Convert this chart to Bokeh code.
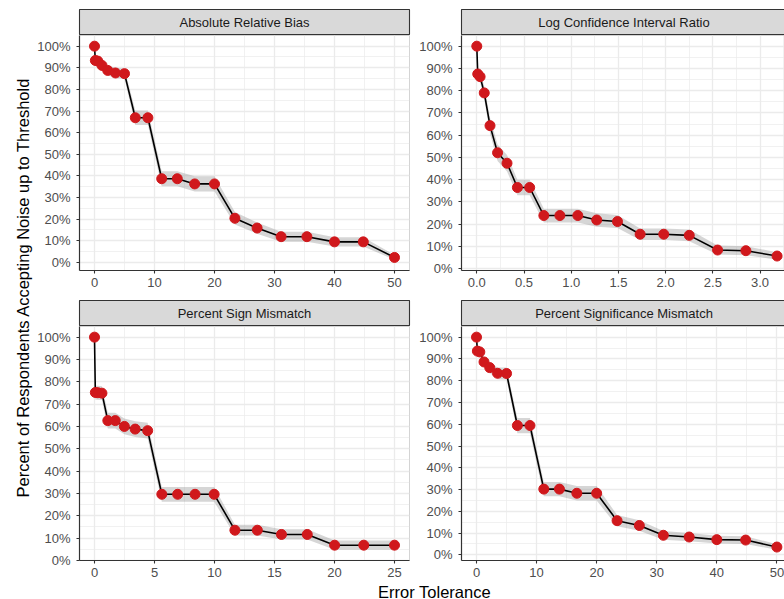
import math
from bokeh.plotting import figure
from bokeh.models import ColumnDataSource, Range1d, FixedTicker, PrintfTickFormatter, Label
from bokeh.layouts import row, column
from bokeh.embed import file_html
from bokeh.resources import INLINE

FONT = "Liberation Sans"

# ---------------- data ----------------
panel_titles = ["Absolute Relative Bias", "Log Confidence Interval Ratio",
                "Percent Sign Mismatch", "Percent Significance Mismatch"]

arb_x = [0, 0.14, 0.55, 1.25, 2.2, 3.5, 5.0, 6.8, 8.9, 11.2, 13.8, 16.7, 20.0,
         23.4, 27.1, 31.1, 35.4, 40.0, 44.8, 50.0]
arb_y = [100, 93.4, 93.1, 91.1, 88.8, 87.6, 87.3, 66.9, 66.9, 38.7, 38.7, 36.3,
         36.3, 20.4, 15.9, 11.9, 11.9, 9.5, 9.5, 2.3]
arb_ci = [0, 1.8, 1.8, 2.1, 2.3, 2.4, 2.4, 3.4, 3.4, 3.5, 3.5, 3.5, 3.5, 2.9,
          2.6, 2.3, 2.3, 2.1, 2.1, 1.1]

lci_x = [0, 0.01, 0.035, 0.079, 0.14, 0.22, 0.32, 0.43, 0.56, 0.71, 0.88, 1.07,
         1.27, 1.49, 1.73, 1.98, 2.25, 2.55, 2.85, 3.18]
lci_y = [100, 87.5, 86.3, 79.0, 64.3, 52.1, 47.4, 36.5, 36.5, 23.9, 23.9, 23.9,
         21.9, 21.2, 15.5, 15.5, 15.0, 8.4, 8.1, 5.7]
lci_ci = [0, 2.4, 2.5, 3.0, 3.5, 3.7, 3.7, 3.5, 3.5, 3.1, 3.1, 3.1, 3.0, 2.9,
          2.6, 2.6, 2.6, 2.0, 2.0, 1.7]

psm_x = [0, 0.07, 0.28, 0.62, 1.11, 1.73, 2.49, 3.39, 4.43, 5.61, 6.93, 8.38,
         9.97, 11.7, 13.57, 15.58, 17.73, 20.01, 22.44, 25.0]
psm_y = [100, 75.2, 75.1, 74.9, 62.6, 62.6, 60.0, 58.8, 58.1, 29.6, 29.6, 29.6,
         29.6, 13.5, 13.5, 11.6, 11.6, 6.8, 6.8, 6.8]
psm_ci = [0, 3.1, 3.1, 3.1, 3.5, 3.5, 3.5, 3.5, 3.5, 3.3, 3.3, 3.3, 3.3, 2.4,
          2.4, 2.3, 2.3, 2.1, 2.1, 2.1]

psig_x = [0, 0.14, 0.55, 1.25, 2.2, 3.5, 5.0, 6.8, 8.9, 11.2, 13.8, 16.7, 20.0,
          23.4, 27.1, 31.1, 35.4, 40.0, 44.8, 50.0]
psig_y = [100, 93.6, 93.2, 88.6, 86.0, 83.4, 83.3, 59.4, 59.4, 30.2, 30.2, 28.3,
          28.3, 15.7, 13.5, 9.0, 8.2, 7.0, 6.8, 3.6]
psig_ci = [0, 1.8, 1.8, 2.3, 2.5, 2.7, 2.7, 3.5, 3.5, 3.3, 3.3, 3.3, 3.3, 2.6,
           2.4, 2.0, 1.9, 1.8, 1.8, 1.3]

ticks_50 = [0, 10, 20, 30, 40, 50]
minor_50 = [5, 15, 25, 35, 45]
ticks_3 = [0, 0.5, 1.0, 1.5, 2.0, 2.5, 3.0]
minor_3 = [0.25, 0.75, 1.25, 1.75, 2.25, 2.75, 3.25]
ticks_25 = [0, 5, 10, 15, 20, 25]
minor_25 = [2.5, 7.5, 12.5, 17.5, 22.5]
y_ticks = [0, 10, 20, 30, 40, 50, 60, 70, 80, 90, 100]
y_minor = [5, 15, 25, 35, 45, 55, 65, 75, 85, 95]

x_title = "Error Tolerance"
y_title = "Percent of Respondents Accepting Noise up to Threshold"

# ---------------- styling / layout ----------------
PT_COLOR = "#d0181c"
GRID = "#ebebeb"
DARK = "#333333"
TICK_TXT = "#4d4d4d"

YT_W = 34
LEFT_B = 44
GAP_R = 7
FW_L = 330
FW_R = 325
TOP_B = 9
STRIP_H = 26
FH_TOP = 235
FH_BOT = 234
MID_B = 30
BOT_B = 22
XT_H = 17


def make_strip(text, col, top):
    s = figure(frame_width=FW_L if col == 0 else FW_R, frame_height=STRIP_H,
               x_range=Range1d(0, 1), y_range=Range1d(0, 1),
               x_axis_type=None, y_axis_type=None, toolbar_location=None,
               output_backend="svg", title=None,
               min_border_left=LEFT_B, min_border_right=GAP_R if col == 0 else 0,
               min_border_top=TOP_B if top else 0, min_border_bottom=0)
    s.background_fill_color = "#d9d9d9"
    s.border_fill_color = "white"
    s.outline_line_color = DARK
    s.outline_line_width = 1.1
    s.add_layout(Label(x=0.5, y=0.5, text=text, text_align="center",
                       text_baseline="middle", text_font=FONT,
                       text_font_size="13px", text_color="#1a1a1a"))
    return s


def make_panel(xs, ys, ci, xr, xt, xm, xfmt, col, fh, bottom_border):
    lower = [y - c for y, c in zip(ys, ci)]
    upper = [y + c for y, c in zip(ys, ci)]
    lo, hi = min(lower), max(upper)
    pad = 0.05 * (hi - lo)
    p = figure(frame_width=FW_L if col == 0 else FW_R, frame_height=fh,
               x_range=Range1d(*xr), y_range=Range1d(lo - pad, hi + pad),
               toolbar_location=None, output_backend="svg", title=None,
               min_border_left=LEFT_B, min_border_right=GAP_R if col == 0 else 0,
               min_border_top=0, min_border_bottom=bottom_border)
    p.background_fill_color = "white"
    p.border_fill_color = "white"
    p.outline_line_color = "#d4d4d4"
    p.outline_line_width = 1

    p.xaxis.ticker = FixedTicker(ticks=xt, minor_ticks=xm)
    p.yaxis.ticker = FixedTicker(ticks=y_ticks, minor_ticks=y_minor)
    p.yaxis.formatter = PrintfTickFormatter(format="%d%%")
    if xfmt:
        p.xaxis.formatter = PrintfTickFormatter(format=xfmt)

    for ax in (p.xaxis[0], p.yaxis[0]):
        ax.axis_line_color = DARK
        ax.axis_line_width = 1.2
        ax.major_tick_line_color = DARK
        ax.major_tick_line_width = 1.1
        ax.major_tick_out = 3
        ax.major_tick_in = 0
        ax.minor_tick_line_color = None
        ax.major_label_text_font = FONT
        ax.major_label_text_font_size = "13px"
        ax.major_label_text_color = TICK_TXT
    p.xaxis.major_label_standoff = 3
    p.yaxis.major_label_standoff = 5

    for g in (p.xgrid[0], p.ygrid[0]):
        g.grid_line_color = GRID
        g.grid_line_width = 1.3
        g.minor_grid_line_color = GRID
        g.minor_grid_line_width = 0.7

    src = ColumnDataSource(dict(x=xs, y=ys, lower=lower, upper=upper))
    p.varea(x="x", y1="lower", y2="upper", source=src,
            fill_color="#999999", fill_alpha=0.4)
    p.line(x="x", y="y", source=src, line_color="black", line_width=1.6)
    p.scatter(x="x", y="y", source=src, size=10,
              fill_color=PT_COLOR, line_color=PT_COLOR)
    return p


p1 = make_panel(arb_x, arb_y, arb_ci, (-2.5, 52.5), ticks_50, minor_50, None, 0, FH_TOP, MID_B)
p2 = make_panel(lci_x, lci_y, lci_ci, (-0.162, 3.28), ticks_3, minor_3, "%.1f", 1, FH_TOP, MID_B)
p3 = make_panel(psm_x, psm_y, psm_ci, (-1.25, 26.25), ticks_25, minor_25, None, 0, FH_BOT, BOT_B)
p4 = make_panel(psig_x, psig_y, psig_ci, (-2.5, 51.6), ticks_50, minor_50, None, 1, FH_BOT, BOT_B)

s1 = make_strip(panel_titles[0], 0, True)
s2 = make_strip(panel_titles[1], 1, True)
s3 = make_strip(panel_titles[2], 0, False)
s4 = make_strip(panel_titles[3], 1, False)

COL_H = TOP_B + STRIP_H + FH_TOP + MID_B + STRIP_H + FH_BOT + BOT_B

yt = figure(width=YT_W, height=COL_H, x_range=Range1d(0, YT_W), y_range=Range1d(0, COL_H),
            x_axis_type=None, y_axis_type=None, toolbar_location=None,
            output_backend="svg", title=None, min_border=0)
yt.outline_line_color = None
yt.border_fill_color = "white"
yt.add_layout(Label(x=22, y=COL_H - 287, text=y_title, angle=math.pi / 2,
                    text_align="center", text_baseline="middle", text_font=FONT,
                    text_font_size="16.5px", text_color="black"))

TOTAL_W = YT_W + LEFT_B + FW_L + GAP_R + LEFT_B + FW_R
xt_fig = figure(width=TOTAL_W, height=XT_H, x_range=Range1d(0, TOTAL_W), y_range=Range1d(0, XT_H),
                x_axis_type=None, y_axis_type=None, toolbar_location=None,
                output_backend="svg", title=None, min_border=0)
xt_fig.outline_line_color = None
xt_fig.border_fill_color = "white"
xt_fig.add_layout(Label(x=434, y=8, text=x_title, text_align="center",
                        text_baseline="middle", text_font=FONT,
                        text_font_size="16.5px", text_color="black"))

left_col = column(s1, p1, s3, p3, spacing=0)
right_col = column(s2, p2, s4, p4, spacing=0)
layout = column(row(yt, left_col, right_col, spacing=0), xt_fig, spacing=0)

open("out.html", "w").write(file_html(layout, INLINE))
